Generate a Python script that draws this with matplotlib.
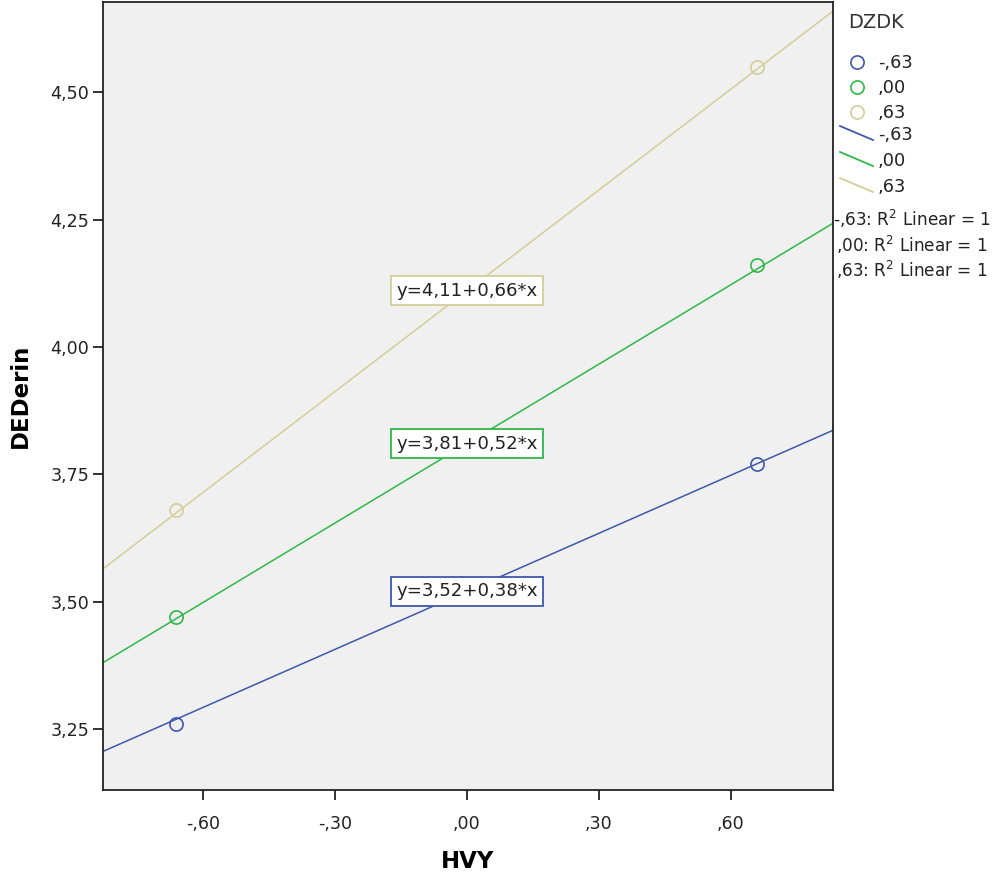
import numpy as np
import matplotlib
matplotlib.use("Agg")
import matplotlib.pyplot as plt
from matplotlib.lines import Line2D

plt.rcParams['font.family'] = ['DejaVu Sans']

# Data
groups = ["-,63", ",00", ",63"]
colors = ["#3e58ac", "#2eb848", "#d3ce97"]
hvy_points = [-0.66, 0.66]
ded_points = {
    "-,63": [3.26, 3.77],
    ",00": [3.47, 4.16],
    ",63": [3.68, 4.55],
}
equations = ["y=3,52+0,38*x", "y=3,81+0,52*x", "y=4,11+0,66*x"]
intercepts = [3.52, 3.81, 4.11]
slopes = [0.38, 0.52, 0.66]
xticks = [-0.60, -0.30, 0.00, 0.30, 0.60]
xtick_labels = ["-,60", "-,30", ",00", ",30", ",60"]
yticks = [3.25, 3.50, 3.75, 4.00, 4.25, 4.50]
ytick_labels = ["3,25", "3,50", "3,75", "4,00", "4,25", "4,50"]
xlim = (-0.827, 0.832)
ylim = (3.13, 4.677)

fig = plt.figure(figsize=(9.95, 8.8), dpi=100)
ax = fig.add_axes([103/995, 1 - 790/880, (833-103)/995, (790-2)/880])
ax.set_facecolor("#f0f0f0")

xs = np.array(xlim)
for g, c, a, b, eq in zip(groups, colors, intercepts, slopes, equations):
    ax.plot(xs, a + b * xs, color=c, lw=1.1, zorder=2)
    ax.plot(hvy_points, ded_points[g], linestyle="none", marker="o", ms=9.5,
            mfc="none", mec=c, mew=1.2, zorder=3)
    ax.text(0.0, a, eq, ha="center", va="center", fontsize=13.1, color="#222222",
            zorder=4,
            bbox=dict(boxstyle="square,pad=0.3", fc="white", ec=c, lw=1.3))

ax.set_xlim(*xlim)
ax.set_ylim(*ylim)
ax.set_xticks(xticks)
ax.set_xticklabels(xtick_labels)
ax.set_yticks(yticks)
ax.set_yticklabels(ytick_labels)
ax.tick_params(axis="both", direction="out", length=7, width=1.3, labelsize=12.6,
               colors="#222222", pad=3)
ax.tick_params(axis="x", pad=11)
for s in ax.spines.values():
    s.set_linewidth(1.3)
    s.set_color("#222222")

ax.set_xlabel("HVY", fontsize=16.5, fontweight="bold", labelpad=12)
ax.set_ylabel("DEDerin", fontsize=16.5, fontweight="bold", labelpad=13)

# Legend (drawn manually in figure pixel coordinates)
W, H = 995, 880
def fx(px):
    return px / W
def fy(py):
    return 1 - py / H

fig.text(fx(848), fy(22), "DZDK", fontsize=14, color="#333333", ha="left", va="center")
for i, (g, c) in enumerate(zip(groups, colors)):
    yy = 62 + 25 * i
    fig.add_artist(Line2D([fx(857)], [fy(yy)], transform=fig.transFigure,
                          linestyle="none", marker="o", ms=9.5, mfc="none",
                          mec=c, mew=1.2))
    fig.text(fx(878), fy(yy + 1), g, fontsize=12.8, color="#222222", ha="left", va="center")
for i, (g, c) in enumerate(zip(groups, colors)):
    y0 = 126 + 26 * i
    fig.add_artist(Line2D([fx(840), fx(873)], [fy(y0), fy(y0 + 14)],
                          transform=fig.transFigure, color=c, lw=1.3))
    fig.text(fx(878), fy(y0 + 9), g, fontsize=12.8, color="#222222", ha="left", va="center")
for i, g in enumerate(groups):
    yy = 219 + 25.5 * i
    fig.text(fx(833 if i == 0 else 836), fy(yy), g + ": R$^{2}$ Linear = 1",
             fontsize=12.2, color="#222222", ha="left", va="center")

fig.savefig("out.png", dpi=100)
